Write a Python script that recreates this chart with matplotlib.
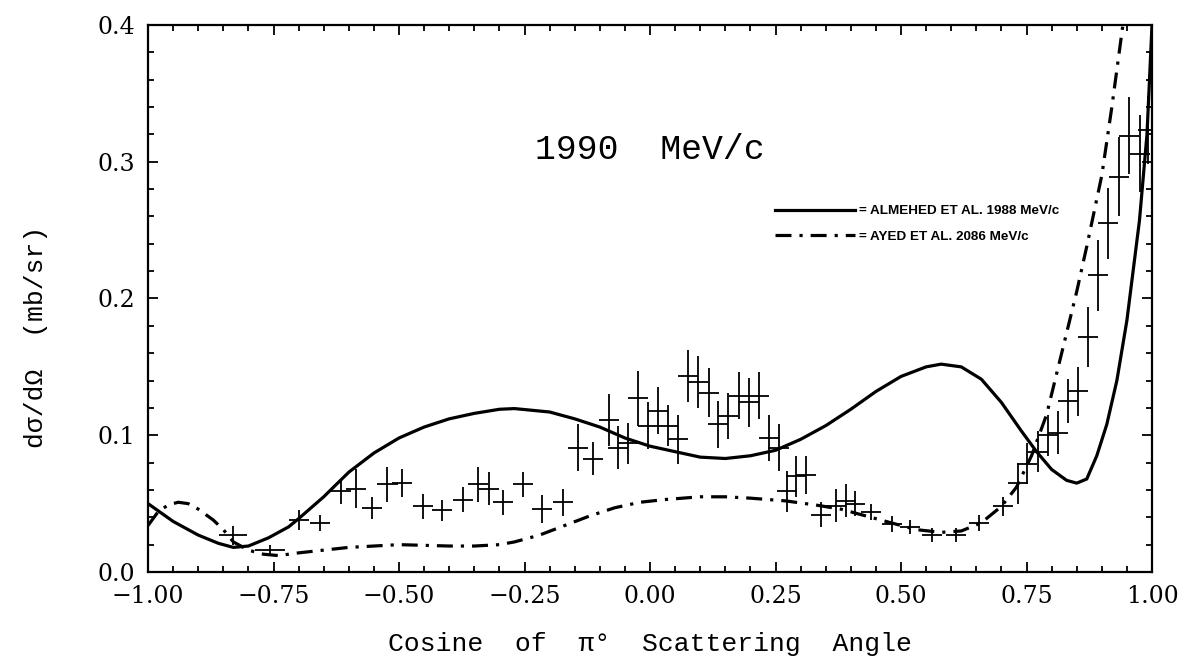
import matplotlib
matplotlib.use("Agg")
import matplotlib.pyplot as plt
from matplotlib.ticker import MultipleLocator, FuncFormatter

# measured points: cos(theta), dsigma/dOmega, errors
cos_pts = [-0.831, -0.757, -0.699, -0.657, -0.616, -0.586, -0.554, -0.523, -0.494, -0.452,
           -0.415, -0.372, -0.342, -0.320, -0.293, -0.253, -0.215, -0.173, -0.143, -0.113,
           -0.081, -0.063, -0.044, -0.024, -0.004, 0.016, 0.035, 0.056, 0.076, 0.096,
           0.118, 0.135, 0.155, 0.178, 0.197, 0.217, 0.237, 0.256, 0.272, 0.290,
           0.310, 0.341, 0.371, 0.391, 0.409, 0.441, 0.482, 0.518, 0.561, 0.609,
           0.656, 0.703, 0.733, 0.751, 0.772, 0.792, 0.812, 0.833, 0.853, 0.873,
           0.892, 0.913, 0.934, 0.954, 0.976, 0.992]
xsec_pts = [0.027, 0.016, 0.038, 0.036, 0.059, 0.061, 0.047, 0.064, 0.065, 0.048,
            0.045, 0.053, 0.064, 0.061, 0.051, 0.064, 0.046, 0.051, 0.091, 0.083,
            0.111, 0.091, 0.094, 0.127, 0.107, 0.118, 0.107, 0.097, 0.143, 0.139,
            0.131, 0.108, 0.114, 0.129, 0.124, 0.129, 0.098, 0.091, 0.059, 0.070,
            0.071, 0.042, 0.0485, 0.052, 0.050, 0.044, 0.035, 0.033, 0.027, 0.027,
            0.036, 0.048, 0.065, 0.079, 0.088, 0.100, 0.102, 0.125, 0.132, 0.172,
            0.217, 0.255, 0.289, 0.319, 0.306, 0.323]
yerr_pts = [0.007, 0.004, 0.007, 0.006, 0.009, 0.014, 0.008, 0.013, 0.010, 0.009,
            0.008, 0.009, 0.013, 0.012, 0.009, 0.009, 0.010, 0.010, 0.017, 0.012,
            0.019, 0.016, 0.015, 0.020, 0.017, 0.017, 0.015, 0.018, 0.019, 0.019,
            0.018, 0.017, 0.017, 0.017, 0.018, 0.017, 0.017, 0.017, 0.015, 0.015,
            0.014, 0.009, 0.012, 0.012, 0.009, 0.006, 0.006, 0.005, 0.005, 0.005,
            0.006, 0.007, 0.015, 0.015, 0.015, 0.015, 0.016, 0.016, 0.018, 0.022,
            0.026, 0.026, 0.029, 0.028, 0.028, 0.025]
xerr_pts = [0.028, 0.03] + [0.02] * 64

# ALMEHED et al. 1988 MeV/c
alm_x = [-1.0, -0.95, -0.9, -0.86, -0.83, -0.8, -0.76, -0.72, -0.7, -0.65, -0.6, -0.55,
         -0.5, -0.45, -0.4, -0.35, -0.3, -0.27, -0.2, -0.15, -0.1, -0.05, 0.0, 0.05,
         0.1, 0.15, 0.2, 0.25, 0.3, 0.35, 0.4, 0.45, 0.5, 0.55, 0.58, 0.62, 0.66,
         0.7, 0.74, 0.77, 0.8, 0.83, 0.85, 0.87, 0.89, 0.91, 0.93, 0.95, 0.975, 0.99, 1.0]
alm_y = [0.050, 0.037, 0.027, 0.021, 0.018, 0.019, 0.025, 0.033, 0.039, 0.055, 0.073, 0.087,
         0.098, 0.106, 0.112, 0.116, 0.119, 0.1195, 0.117, 0.112, 0.106, 0.098, 0.092, 0.088,
         0.084, 0.083, 0.085, 0.089, 0.097, 0.107, 0.119, 0.132, 0.143, 0.150, 0.152, 0.150, 0.141,
         0.124, 0.103, 0.088, 0.075, 0.067, 0.065, 0.068, 0.085, 0.108, 0.140, 0.184, 0.257, 0.320, 0.400]

# AYED et al. 2086 MeV/c
ayed_x = [-1.0, -0.98, -0.96, -0.94, -0.92, -0.9, -0.87, -0.85, -0.83, -0.8, -0.77, -0.74,
          -0.7, -0.65, -0.6, -0.55, -0.5, -0.45, -0.4, -0.35, -0.3, -0.27, -0.22, -0.17,
          -0.12, -0.07, -0.02, 0.03, 0.1, 0.15, 0.2, 0.27, 0.33, 0.38, 0.43, 0.48, 0.53,
          0.58, 0.62, 0.66, 0.7, 0.73, 0.76, 0.79, 0.82, 0.85, 0.87, 0.9, 0.92, 0.942]
ayed_y = [0.034, 0.044, 0.049, 0.051, 0.050, 0.046, 0.038, 0.031, 0.022, 0.016, 0.013, 0.012,
          0.014, 0.016, 0.018, 0.019, 0.020, 0.0195, 0.019, 0.019, 0.020, 0.022, 0.027, 0.034,
          0.041, 0.047, 0.051, 0.053, 0.055, 0.055, 0.054, 0.052, 0.049, 0.046, 0.041, 0.036, 0.031,
          0.029, 0.030, 0.036, 0.048, 0.062, 0.085, 0.115, 0.160, 0.205, 0.238, 0.290, 0.340, 0.400]

plt.rcParams['font.family'] = 'DejaVu Serif'

fig = plt.figure(figsize=(11.88, 6.68), dpi=100)
ax = fig.add_axes([0.1246, 0.1437, 0.8451, 0.8189])

ax.plot(alm_x, alm_y, color='black', lw=2.3, label='= ALMEHED ET AL. 1988 MeV/c')
ax.plot(ayed_x, ayed_y, color='black', lw=2.3, linestyle=(0, (5, 2.5, 1, 2.5)),
        label='= AYED ET AL. 2086 MeV/c')
ax.errorbar(cos_pts, xsec_pts, yerr=yerr_pts, xerr=xerr_pts, fmt='none',
            ecolor='black', elinewidth=1.3, capsize=0)

ax.set_xlim(-1.0, 1.0)
ax.set_ylim(0.0, 0.4)
ax.xaxis.set_major_locator(MultipleLocator(0.25))
ax.xaxis.set_minor_locator(MultipleLocator(0.05))
ax.yaxis.set_major_locator(MultipleLocator(0.1))
ax.yaxis.set_minor_locator(MultipleLocator(0.02))
ax.xaxis.set_major_formatter(FuncFormatter(lambda v, p: f"{v:.2f}".replace("-", "\u2212")))
ax.yaxis.set_major_formatter(FuncFormatter(lambda v, p: f"{v:.1f}"))
ax.tick_params(which='both', direction='in', top=True, right=True, width=1.3, labelsize=17)
ax.tick_params(which='major', length=7)
ax.tick_params(which='minor', length=4)
ax.tick_params(axis='x', pad=9)
ax.tick_params(axis='y', pad=9)
for s in ax.spines.values():
    s.set_linewidth(1.6)

ax.set_xlabel("Cosine  of  \u03c0\u00b0  Scattering  Angle", fontsize=19,
              family='Liberation Mono')
ax.xaxis.set_label_coords(0.5, -0.11)
ax.set_ylabel("d\u03c3/d\u03a9  (mb/sr)", fontsize=19, family='Liberation Mono')
ax.yaxis.set_label_coords(-0.10, 0.43)

ax.text(0.0, 0.309, "1990  MeV/c", fontsize=25, ha='center', va='center',
        family='Liberation Mono')

leg = ax.legend(loc='upper left', bbox_to_anchor=(0.612, 0.693), frameon=False,
                handlelength=6.0, handletextpad=0.3, labelspacing=0.95,
                prop={'family': 'Liberation Sans', 'weight': 'bold', 'size': 9.7})

fig.savefig("out.png", dpi=100)
